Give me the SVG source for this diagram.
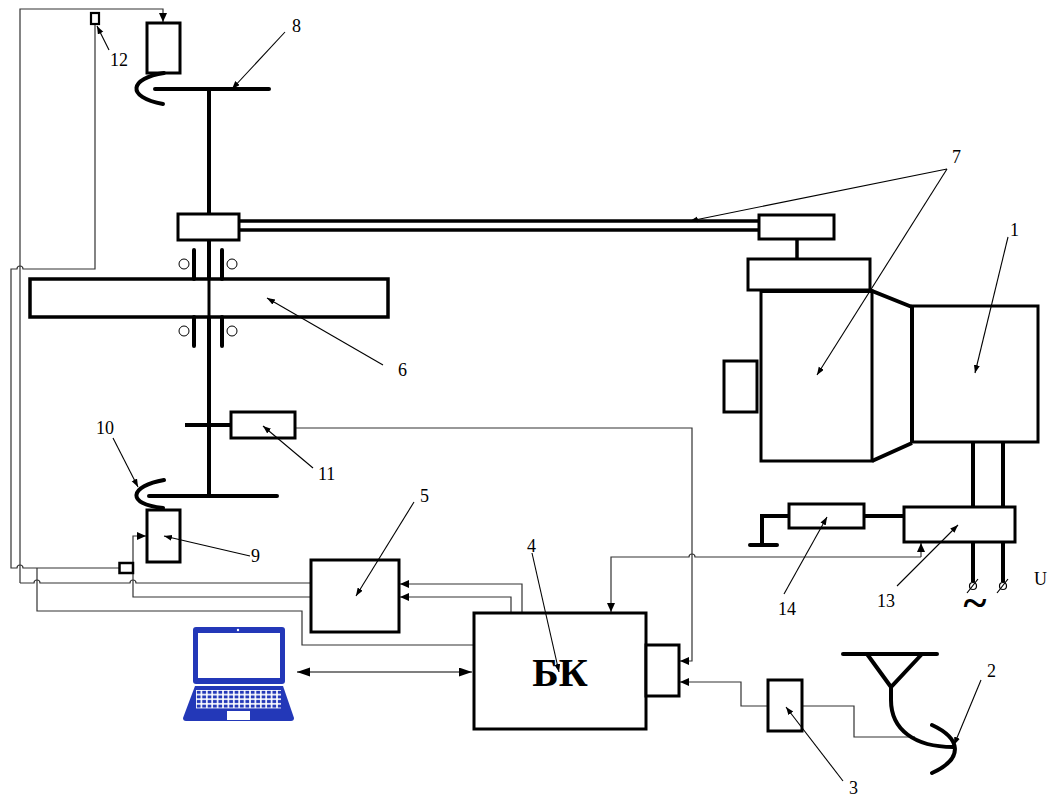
<svg xmlns="http://www.w3.org/2000/svg" width="1049" height="796" viewBox="0 0 1049 796">
  <style>
    .box { fill: #fff; stroke: #000; stroke-width: 3; }
    .thick { fill: none; stroke: #000; stroke-width: 4; }
    .shaft { fill: none; stroke: #000; stroke-width: 4; stroke-linecap: round; }
    .wire { fill: none; stroke: #333; stroke-width: 1.2; }
    .lead { fill: none; stroke: #000; stroke-width: 1.1; }
    .lbl { font-family: "Liberation Serif", "Times New Roman", serif; font-size: 18px; fill: #000; }
    .blue { fill: #2338b8; }
  </style>
  <defs>
    <marker id="wa" markerUnits="userSpaceOnUse" markerWidth="10" markerHeight="10" refX="9" refY="4" orient="auto-start-reverse">
      <path d="M0,0 L9,4 L0,8 Z" fill="#000"/>
    </marker>
    <marker id="wb" markerUnits="userSpaceOnUse" markerWidth="14" markerHeight="10" refX="13" refY="4.5" orient="auto-start-reverse">
      <path d="M0,0 L13,4.5 L0,9 Z" fill="#000"/>
    </marker>
    <marker id="la" markerUnits="userSpaceOnUse" markerWidth="9" markerHeight="8" refX="8" refY="3" orient="auto">
      <path d="M0,0 L8,3 L0,6 Z" fill="#000"/>
    </marker>
    <pattern id="keys" patternUnits="userSpaceOnUse" x="196" y="690" width="5.4" height="4.6">
      <rect x="0.8" y="0.8" width="3.8" height="3" fill="#2338b8"/>
    </pattern>
  </defs>

  <!-- signal wiring -->
  <g id="connectors">
    <!-- line to actuator 8 -->
    <path class="wire" d="M20,583 V9 H163 V22" marker-end="url(#wa)"/>
    <!-- sensor 12 line with crossing hops -->
    <path class="wire" d="M95,24 V269 H23 a3,3 0 0 0 -6,0 H11 V568 H17 a3,3 0 0 1 6,0 H119"/>
    <path class="wire" d="M37,568 V611 H302 V645 H474"/>
    <!-- line from x=20 to block 5 -->
    <path class="wire" d="M20,583 H34 a3,3 0 0 1 6,0 H130 a3,3 0 0 1 6,0 H311"/>
    <!-- sensor near 9 -->
    <path class="wire" d="M133,563 V536 H146" marker-end="url(#wa)"/>
    <path class="wire" d="M133,573 V597 H311"/>
    <!-- BK to block 5 -->
    <path class="wire" d="M522,613 V584 H400" marker-end="url(#wa)"/>
    <path class="wire" d="M511,613 V597 H400" marker-end="url(#wa)"/>
    <!-- sensor 11 to BK -->
    <path class="wire" d="M295,428 H692 V661 H680" marker-end="url(#wa)"/>
    <!-- BK to converter 13 -->
    <path class="wire" d="M921,557 H695 a3,3 0 0 0 -6,0 H611 V612" marker-end="url(#wa)"/>
    <path class="wire" d="M921,557 V543" marker-end="url(#wa)"/>
    <!-- antenna / receiver 3 -->
    <path class="wire" d="M768,706 H741 V682 H680" marker-end="url(#wa)"/>
    <path class="wire" d="M802,706 H854 V737 H915"/>
    <!-- laptop link -->
    <path class="lead" d="M297,672 H472" stroke-width="1.3" marker-start="url(#wb)" marker-end="url(#wb)"/>
  </g>

  <!-- 8: upper disk with actuator -->
  <g id="node-8">
    <rect class="box" x="147" y="23" width="33" height="50"/>
    <path class="shaft" d="M164,73 C130,78 125,97 163,104"/>
    <path class="shaft" d="M155,89 H269"/>
  </g>

  <!-- main shaft -->
  <g id="shaft">
    <path class="thick" d="M209,89 V496"/>
  </g>

  <!-- 6: rotating disk with bearings -->
  <g id="node-6">
    <rect x="30" y="279" width="358" height="38" fill="#fff" stroke="#000" stroke-width="3.5"/>
    <path d="M209,279 V317" stroke="#000" stroke-width="3"/>
    <path class="shaft" d="M194,250 V279 M222,250 V279 M194,317 V346 M222,317 V346"/>
    <circle cx="184" cy="264" r="5" fill="#fff" stroke="#000" stroke-width="1"/>
    <circle cx="232" cy="264" r="5" fill="#fff" stroke="#000" stroke-width="1"/>
    <circle cx="184" cy="331" r="5" fill="#fff" stroke="#000" stroke-width="1"/>
    <circle cx="232" cy="331" r="5" fill="#fff" stroke="#000" stroke-width="1"/>
  </g>

  <!-- 7: transmission rod and couplings -->
  <g id="node-7">
    <path d="M239,221 H759 M239,230 H759" stroke="#000" stroke-width="3.5"/>
    <rect class="box" x="178" y="214" width="61" height="26"/>
    <rect class="box" x="759" y="215" width="75" height="24"/>
    <path d="M797,239 V259" stroke="#000" stroke-width="3.5"/>
    <rect class="box" x="748" y="259" width="122" height="31"/>
    <rect class="box" x="761" y="291" width="111" height="170"/>
    <path class="thick" d="M761,291 H872 L912,307 M872,461 L912,443" stroke-width="4.5"/>
    <rect class="box" x="724" y="361" width="33" height="51"/>
  </g>

  <!-- 1: drive -->
  <g id="node-1">
    <rect class="box" x="912" y="306" width="126" height="136"/>
    <path class="thick" d="M912,306 V443"/>
    <path class="thick" d="M973,442 V507 M1003,442 V507"/>
  </g>

  <!-- 13: converter with supply terminals -->
  <g id="node-13">
    <rect class="box" x="904" y="507" width="111" height="35"/>
    <path class="thick" d="M973,542 V582 M1003,542 V582"/>
    <circle cx="973" cy="586" r="3.5" fill="#fff" stroke="#000" stroke-width="1.2"/>
    <circle cx="1003" cy="586" r="3.5" fill="#fff" stroke="#000" stroke-width="1.2"/>
    <path d="M967,593 L978,579 M997,593 L1008,579" stroke="#000" stroke-width="1.2"/>
    <text x="975" y="617" text-anchor="middle" font-family="Liberation Serif, serif" font-size="44" font-weight="bold">~</text>
  </g>

  <!-- 14: resistor to ground -->
  <g id="node-14">
    <rect class="box" x="789" y="504" width="75" height="24"/>
    <path class="thick" d="M864,516 H904 M789,516 H762 V545"/>
    <path class="shaft" d="M750,545 H777"/>
  </g>

  <!-- 11: speed sensor -->
  <g id="node-11">
    <path class="thick" d="M185,425 H231"/>
    <rect class="box" x="231" y="412" width="64" height="26"/>
  </g>

  <!-- 10, 9: lower disk with actuator -->
  <g id="node-10">
    <path class="shaft" d="M149,496 H277"/>
    <path class="shaft" d="M164,480 C130,486 125,504 163,508"/>
  </g>
  <g id="node-9">
    <rect class="box" x="147" y="510" width="33" height="52"/>
    <rect x="119.5" y="563" width="13.5" height="10" fill="#fff" stroke="#000" stroke-width="2.5"/>
  </g>

  <!-- 12: sensor -->
  <g id="node-12">
    <rect x="91" y="13" width="8" height="11" fill="#fff" stroke="#000" stroke-width="2.2"/>
  </g>

  <!-- 5 -->
  <g id="node-5">
    <rect class="box" x="311" y="560" width="88" height="72"/>
  </g>

  <!-- 4: control unit БК -->
  <g id="node-4">
    <rect class="box" x="474" y="613" width="172" height="116"/>
    <rect class="box" x="646" y="645" width="33" height="51"/>
    <text x="560" y="686" text-anchor="middle" font-family="Liberation Serif, serif" font-size="40" font-weight="bold">БК</text>
  </g>

  <!-- 3: receiver -->
  <g id="node-3">
    <rect class="box" x="768" y="680" width="34" height="51"/>
  </g>

  <!-- 2: antenna -->
  <g id="node-2">
    <path class="shaft" d="M843,654 H937"/>
    <path class="thick" d="M867,654 L891,687 L922,654" stroke-width="3.5"/>
    <path class="thick" d="M891,687 V700 C891,730 915,747 953,747" stroke-width="3.5"/>
    <path class="shaft" d="M932,725 C960,738 965,758 932,773"/>
  </g>

  <!-- laptop -->
  <g id="laptop">
    <rect class="blue" x="193" y="627" width="92" height="57" rx="3"/>
    <rect x="198" y="633" width="82" height="45" fill="#fff"/>
    <circle cx="238" cy="630" r="1.2" fill="#fff"/>
    <path class="blue" d="M195,686 H283 L294,718 Q294,721 291,721 H186 Q183,721 183,718 Z"/>
    <rect x="196" y="690" width="85" height="18.4" fill="#fff"/>
    <rect x="196" y="690" width="85" height="18.4" fill="url(#keys)"/>
    <rect x="227" y="711" width="23" height="9" fill="#fff"/>
  </g>

  <!-- reference leaders and numbers -->
  <g id="labels">
    <path class="lead" d="M285,32 L232,89" marker-end="url(#la)"/>
    <text class="lbl" x="292" y="32">8</text>
    <path class="lead" d="M109,50 L97,26" marker-end="url(#la)"/>
    <text class="lbl" x="110" y="66">12</text>
    <path class="lead" d="M947,169 L690,221" marker-end="url(#la)"/>
    <path class="lead" d="M947,169 L817,375" marker-end="url(#la)"/>
    <text class="lbl" x="952" y="163">7</text>
    <path class="lead" d="M1008,237 L975,373" marker-end="url(#la)"/>
    <text class="lbl" x="1010" y="236">1</text>
    <path class="lead" d="M383,365 L267,298" marker-end="url(#la)"/>
    <text class="lbl" x="398" y="376">6</text>
    <path class="lead" d="M113,438 L138,487" marker-end="url(#la)"/>
    <text class="lbl" x="96" y="434">10</text>
    <path class="lead" d="M313,468 L263,426" marker-end="url(#la)"/>
    <text class="lbl" x="318" y="480">11</text>
    <path class="lead" d="M250,556 L164,536" marker-end="url(#la)"/>
    <text class="lbl" x="251" y="562">9</text>
    <path class="lead" d="M414,502 L356,596" marker-end="url(#la)"/>
    <text class="lbl" x="420" y="502">5</text>
    <path class="lead" d="M532,553 L559,672" marker-end="url(#la)"/>
    <text class="lbl" x="527" y="552">4</text>
    <path class="lead" d="M784,594 L827,517" marker-end="url(#la)"/>
    <text class="lbl" x="778" y="615">14</text>
    <path class="lead" d="M897,586 L958,525" marker-end="url(#la)"/>
    <text class="lbl" x="877" y="607">13</text>
    <text class="lbl" x="1034" y="585">U</text>
    <path class="lead" d="M981,680 L954,745" marker-end="url(#la)"/>
    <text class="lbl" x="987" y="677">2</text>
    <path class="lead" d="M843,781 L786,707" marker-end="url(#la)"/>
    <text class="lbl" x="849" y="794">3</text>
  </g>
</svg>
